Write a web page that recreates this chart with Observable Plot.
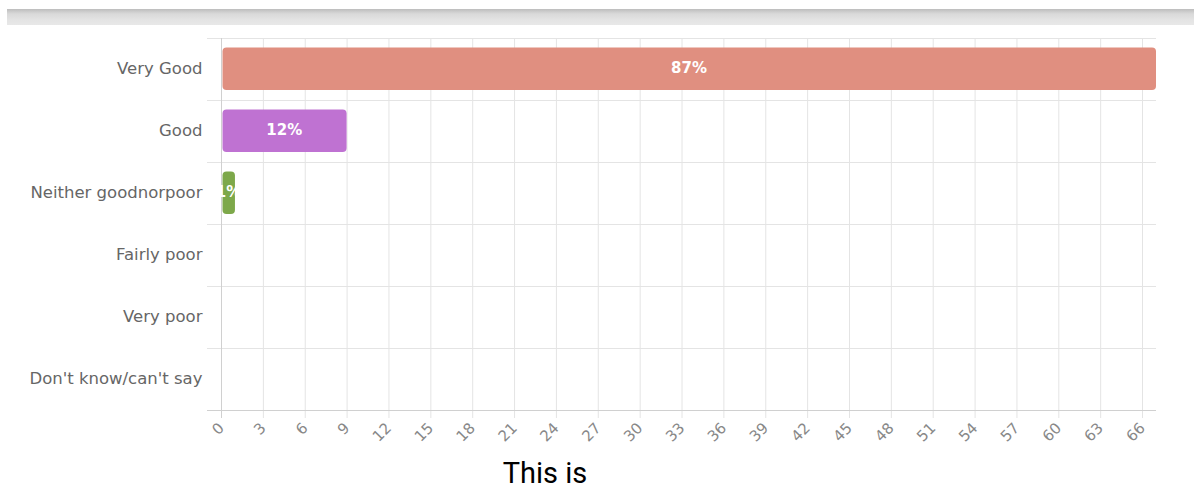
<!DOCTYPE html>
<html>
<head>
<meta charset="utf-8">
<script src="https://cdn.jsdelivr.net/npm/d3@7"></script>
<script src="https://cdn.jsdelivr.net/npm/@observablehq/plot@0.6"></script>
<style>
  html, body { margin: 0; padding: 0; background: #fff; }
  body { width: 1194px; height: 488px; position: relative; overflow: hidden; font-family: "DejaVu Sans", sans-serif; }
  #topbar { position: absolute; left: 7px; top: 9px; width: 1187px; height: 16px;
    background: linear-gradient(#bdbdbd 0%, #d9d9d9 30%, #e4e4e4 70%, #e8e8e8 100%); }
  #chart { position: absolute; left: 0; top: 0; }
  #caption { position: absolute; top: 455px; left: 445px; width: 200px; text-align: center;
    font-family: Roboto, sans-serif; font-size: 29px; color: #000; line-height: 36px; }
</style>
</head>
<body>
<div id="topbar"></div>
<div id="chart"></div>
<div id="caption">This is</div>
<script>
const categories = ["Very Good", "Good", "Neither goodnorpoor", "Fairly poor", "Very poor", "Don't know/can't say"];
const counts = [67, 9, 1, 0, 0, 0];
const colors = ["#E08F80", "#BF72D2", "#7DA84A", "#4E9BD4", "#E8B44A", "#9A9A9A"];
const xTicks = d3.range(0, 67, 3);
const xMax = 67;

const total = d3.sum(counts);
const rows = categories.map((c, i) => ({
  category: c,
  value: counts[i],
  color: colors[i],
  label: Math.round(counts[i] / total * 100) + "%"
}));
const barRows = rows.filter(d => d.value > 0);

const W = 1194, H = 450, mT = 38, mB = 40;
const step = (H - mT - mB) / categories.length;

const chart = Plot.plot({
  width: W,
  height: H,
  marginLeft: 221,
  marginRight: 38,
  marginTop: mT,
  marginBottom: mB,
  style: { fontFamily: "DejaVu Sans, sans-serif", background: "transparent" },
  x: { domain: [0, xMax], axis: null },
  y: { domain: categories, padding: 0, axis: null },
  marks: [
    Plot.ruleX(xTicks.filter(t => t > 0), { stroke: "#e4e4e4", strokeWidth: 1, insetBottom: -8 }),
    Plot.ruleY(categories, { y: d => d, dy: -step / 2, stroke: "#e4e4e4", insetLeft: -14 }),
    Plot.ruleY(categories.slice(-1), { y: d => d, dy: step / 2, stroke: "#d0d0d0", insetLeft: -14 }),
    Plot.ruleX([0], { stroke: "#d0d0d0", insetBottom: -8 }),
    Plot.barX(barRows, {
      y: "category", x: "value", fill: "color",
      insetTop: 9.5, insetBottom: 10, insetLeft: 1.5, rx: 4
    }),
    Plot.text(barRows, {
      y: "category", x: d => d.value / 2, text: "label", dy: -1,
      fill: "#fff", fontWeight: "bold", fontSize: 15
    }),
    Plot.axisY({
      tickSize: 0, tickPadding: 19, fontSize: 16.5, color: "#666", label: null, dy: -1
    }),
    Plot.axisX(xTicks, {
      tickSize: 0, tickPadding: 15, tickRotate: -45, fontSize: 15, color: "#888", label: null
    })
  ]
});
document.getElementById("chart").appendChild(chart);
</script>
</body>
</html>
